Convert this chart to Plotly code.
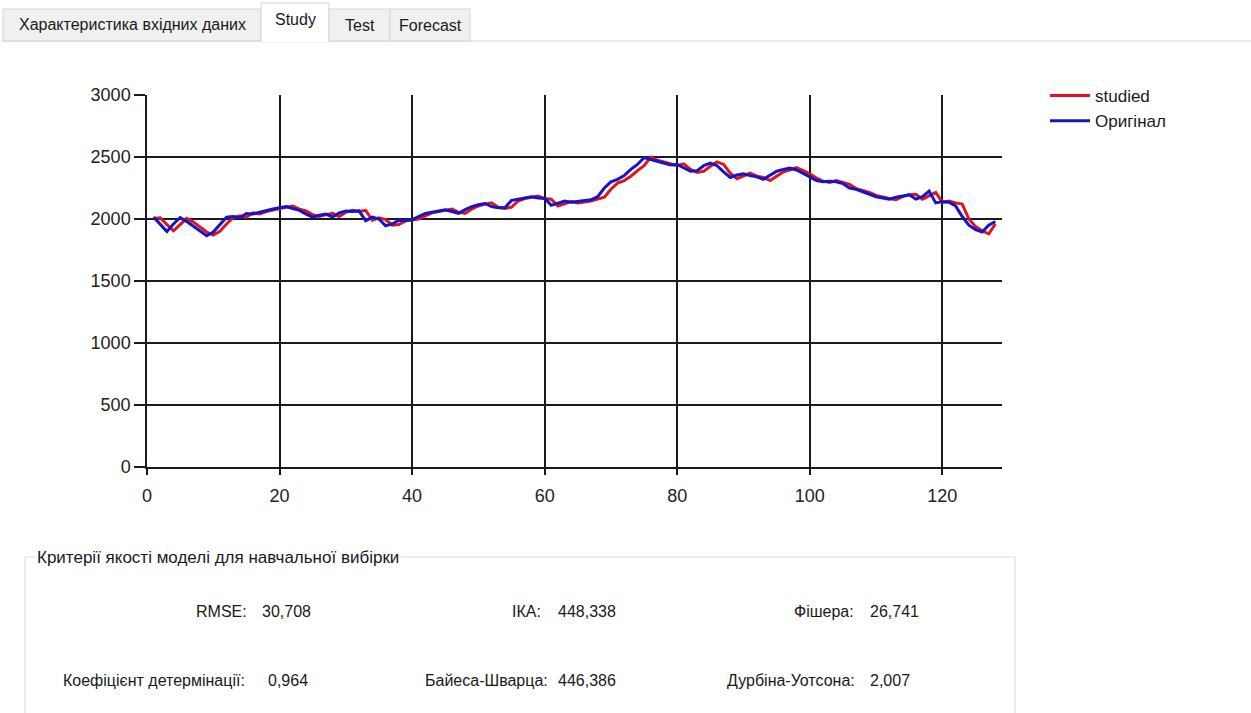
import plotly.graph_objects as go

# Observation index
steps = list(range(1, 129))

# Original series
original = [
    2015, 1960, 1900, 1960, 2012, 1980, 1940, 1900, 1865, 1895,
    1955, 2015, 2020, 2010, 2045, 2040, 2055, 2070, 2080, 2090,
    2100, 2085, 2070, 2040, 2015, 2030, 2040, 2015, 2050, 2065,
    2060, 2065, 1985, 2015, 2000, 1945, 1960, 1990, 1985, 1995,
    2020, 2045, 2055, 2065, 2075, 2060, 2045, 2075, 2100, 2115,
    2125, 2100, 2090, 2090, 2150, 2160, 2170, 2180, 2170, 2165,
    2110, 2130, 2145, 2135, 2140, 2150, 2155, 2180, 2250, 2300,
    2320, 2350, 2400, 2440, 2495, 2480, 2465, 2450, 2435, 2440,
    2410, 2385, 2390, 2430, 2450, 2430, 2380, 2335, 2355, 2365,
    2350, 2340, 2320, 2350, 2385, 2400, 2410, 2395, 2370, 2340,
    2310, 2300, 2305, 2300, 2285, 2250, 2240, 2220, 2195, 2180,
    2170, 2160, 2175, 2185, 2195, 2160, 2180, 2225, 2130, 2140,
    2135, 2105, 2020, 1950, 1915, 1895, 1950, 1980,
]

# Model output on the training sample
studied = [
    2005, 2010, 1955, 1905, 1955, 2005, 1975, 1935, 1895, 1870,
    1900, 1960, 2010, 2025, 2015, 2050, 2040, 2060, 2075, 2085,
    2095, 2105, 2080, 2065, 2035, 2020, 2035, 2045, 2020, 2055,
    2070, 2060, 2070, 1990, 2010, 1995, 1950, 1955, 1985, 1990,
    2000, 2025, 2050, 2060, 2070, 2080, 2055, 2045, 2080, 2105,
    2120, 2130, 2095, 2085, 2095, 2145, 2165, 2175, 2185, 2165,
    2160, 2105, 2125, 2140, 2130, 2135, 2145, 2160, 2175, 2240,
    2290, 2310, 2345, 2390, 2430, 2500, 2475, 2460, 2445, 2430,
    2445, 2400, 2375, 2385, 2425, 2460, 2440, 2370, 2325, 2350,
    2370, 2345, 2335, 2310, 2345, 2380, 2395, 2415, 2390, 2365,
    2330, 2305, 2295, 2310, 2295, 2280, 2245, 2230, 2215, 2190,
    2175, 2165, 2155, 2180, 2195, 2200, 2160, 2185, 2215, 2135,
    2145, 2130, 2120, 2000, 1940, 1905, 1880, 1960,
]

x_ticks = [0, 20, 40, 60, 80, 100, 120]
y_ticks = [0, 500, 1000, 1500, 2000, 2500, 3000]

tabs = ["Характеристика вхідних даних", "Study", "Test", "Forecast"]

group_title = "Критерії якості моделі для навчальної вибірки"
metric_names = ["RMSE:", "ІКА:", "Фішера:",
                "Коефіцієнт детермінації:", "Байеса-Шварца:", "Дурбіна-Уотсона:"]
metric_values = ["30,708", "448,338", "26,741", "0,964", "446,386", "2,007"]

# Page geometry (pixels)
W, H = 1251, 713
L, T = 147, 95
PW, PH = 855, 372

FONT = "Liberation Sans, Arial, sans-serif"


def fx(px):
    return (px - L) / PW


def fy(py):
    return (T + PH - py) / PH


fig = go.Figure()
fig.add_trace(go.Scatter(x=steps, y=studied, mode="lines", name="studied",
                         line=dict(color="#e0141c", width=3)))
fig.add_trace(go.Scatter(x=steps, y=original, mode="lines", name="Оригінал",
                         line=dict(color="#1414cc", width=3)))

shapes = []
annotations = []

# Tab strip
shapes.append(dict(type="line", xref="paper", yref="paper",
                   x0=fx(2), x1=fx(W), y0=fy(41), y1=fy(41),
                   line=dict(color="#d4d4d4", width=1)))
tab_boxes = [(3, 261, 9), (261, 329, 3), (329, 390, 9), (390, 470, 9)]
tab_text_y = [25, 20, 26, 26]
for i, (name, (x0, x1, top)) in enumerate(zip(tabs, tab_boxes)):
    selected = name == "Study"
    shapes.append(dict(type="rect", xref="paper", yref="paper",
                       x0=fx(x0), x1=fx(x1), y0=fy(42 if selected else 41), y1=fy(top),
                       fillcolor="#ffffff" if selected else "#f0f0f0",
                       line=dict(color="#d4d4d4", width=1)))
    annotations.append(dict(text=name, xref="paper", yref="paper",
                            x=fx((x0 + x1) / 2), y=fy(tab_text_y[i]),
                            xanchor="center", yanchor="middle", showarrow=False,
                            font=dict(family=FONT, size=16, color="#1a1a1a")))
# hide the border under the selected tab
shapes.append(dict(type="line", xref="paper", yref="paper",
                   x0=fx(262), x1=fx(328), y0=fy(41.5), y1=fy(41.5),
                   line=dict(color="#ffffff", width=2)))

# Group box with model quality metrics
shapes.append(dict(type="rect", xref="paper", yref="paper",
                   x0=fx(25), x1=fx(1015), y0=fy(720), y1=fy(557),
                   fillcolor="rgba(0,0,0,0)", line=dict(color="#dadada", width=1)))
annotations.append(dict(text=group_title, xref="paper", yref="paper",
                        x=fx(35), y=fy(557), xanchor="left", yanchor="middle",
                        showarrow=False, bgcolor="#ffffff", borderpad=1,
                        font=dict(family=FONT, size=17, color="#1a1a1a")))

name_right = [249, 543, 856, 247, 550, 857]
value_left = [260, 556, 868, 266, 556, 868]
row_y = [611, 611, 611, 680, 680, 680]
for nm, val, xr, xl, yy in zip(metric_names, metric_values, name_right, value_left, row_y):
    annotations.append(dict(text=nm, xref="paper", yref="paper", x=fx(xr), y=fy(yy),
                            xanchor="right", yanchor="middle", showarrow=False,
                            font=dict(family=FONT, size=16, color="#1a1a1a")))
    annotations.append(dict(text=val, xref="paper", yref="paper", x=fx(xl), y=fy(yy),
                            xanchor="left", yanchor="middle", showarrow=False,
                            font=dict(family=FONT, size=16, color="#1a1a1a")))

fig.update_layout(
    width=W, height=H,
    margin=dict(l=L, r=W - L - PW, t=T, b=H - T - PH, autoexpand=False),
    paper_bgcolor="#ffffff", plot_bgcolor="#ffffff",
    showlegend=True,
    legend=dict(x=fx(1045), y=fy(78), xanchor="left", yanchor="top",
                bgcolor="rgba(0,0,0,0)", tracegroupgap=0, itemwidth=40,
                font=dict(family=FONT, size=17, color="#1a1a1a")),
    shapes=shapes, annotations=annotations,
    xaxis=dict(range=[0, 129], tickvals=x_ticks, ticktext=[str(v) for v in x_ticks],
               showgrid=True, gridcolor="#1a1a1a", gridwidth=1.5,
               showline=True, linecolor="#1a1a1a", linewidth=1.5,
               ticks="outside", ticklen=6, tickcolor="#1a1a1a", tickwidth=1.5,
               ticklabelstandoff=6, zeroline=False,
               tickfont=dict(family=FONT, size=18, color="#222222")),
    yaxis=dict(range=[0, 3000], tickvals=y_ticks, ticktext=[str(v) for v in y_ticks],
               showgrid=True, gridcolor="#1a1a1a", gridwidth=1.5,
               showline=True, linecolor="#1a1a1a", linewidth=1.5,
               ticks="outside", ticklen=11, tickcolor="#1a1a1a", tickwidth=1.5,
               zeroline=False,
               tickfont=dict(family=FONT, size=18, color="#222222")),
)

fig.write_html("out.html")
